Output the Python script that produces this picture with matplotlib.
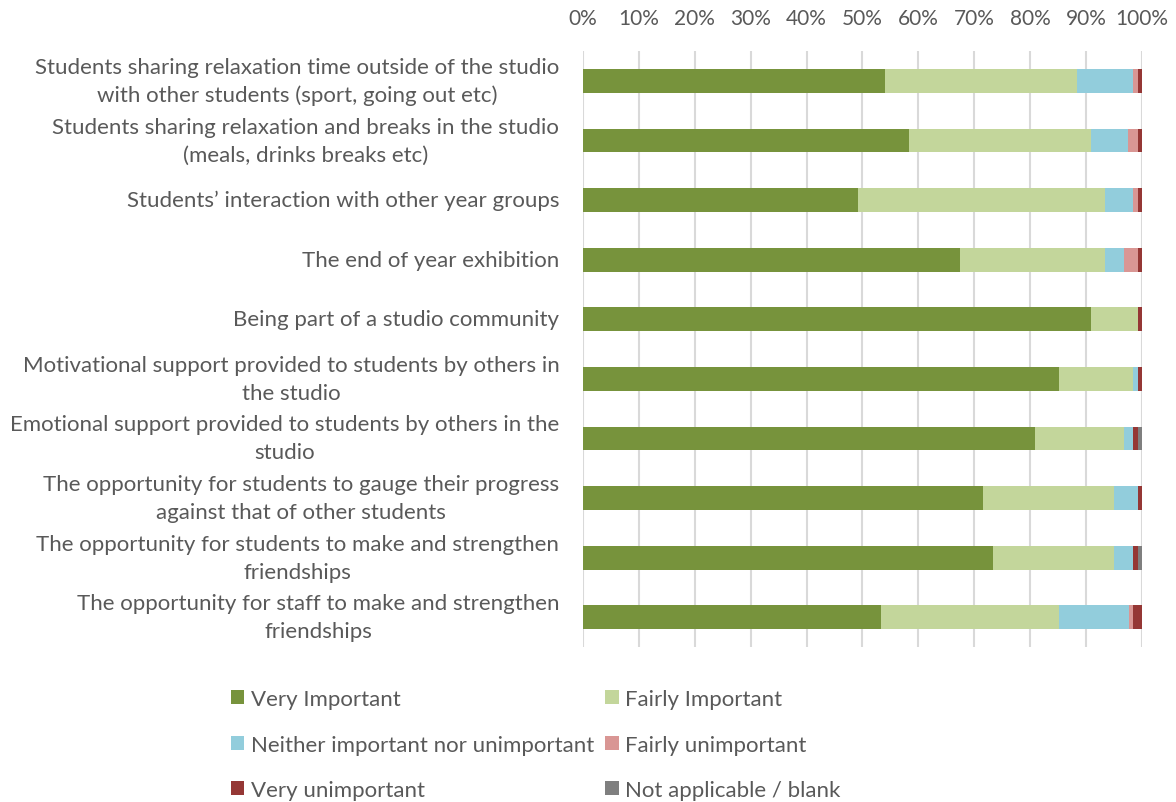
import numpy as np
import matplotlib.pyplot as plt
from matplotlib.patches import Patch

plt.rcParams['font.family'] = ['Lato', 'DejaVu Sans']

categories = [
    "Students sharing relaxation time outside of the studio\nwith other students (sport, going out etc)",
    "Students sharing relaxation and breaks in the studio\n(meals, drinks breaks etc)",
    "Students\u2019 interaction with other year groups",
    "The end of year exhibition",
    "Being part of a studio community",
    "Motivational support provided to students by others in\nthe studio",
    "Emotional support provided to students by others in the\nstudio",
    "The opportunity for students to gauge their progress\nagainst that of other students",
    "The opportunity for students to make and strengthen\nfriendships",
    "The opportunity for staff to make and strengthen\nfriendships",
]

series = ["Very Important", "Fairly Important", "Neither important nor unimportant",
          "Fairly unimportant", "Very unimportant", "Not applicable / blank"]

very_important = [54.0, 58.3, 49.2, 67.5, 90.9, 85.1, 80.8, 71.6, 73.4, 53.3]
fairly_important = [34.4, 32.6, 44.1, 25.8, 8.3, 13.3, 16.0, 23.4, 21.6, 31.8]
neither = [10.0, 6.6, 5.1, 3.5, 0.0, 0.8, 1.6, 4.2, 3.4, 12.5]
fairly_unimportant = [0.8, 1.7, 0.8, 2.4, 0.0, 0.0, 0.0, 0.0, 0.0, 0.8]
very_unimportant = [0.8, 0.8, 0.8, 0.8, 0.8, 0.8, 0.8, 0.8, 0.8, 1.6]
not_applicable = [0.0, 0.0, 0.0, 0.0, 0.0, 0.0, 0.8, 0.0, 0.8, 0.0]

colors = ["#77933C", "#C3D69B", "#92CDDC", "#D99694", "#953735", "#7F7F7F"]
text_color = "#595959"

data = np.array([very_important, fairly_important, neither,
                 fairly_unimportant, very_unimportant, not_applicable])
# scale each row to 100%
data = data / data.sum(axis=0) * 100

fig = plt.figure(figsize=(11.76, 8.03), dpi=100)
ax = fig.add_axes([0.4957, 0.193, 0.4754, 0.742])

y = np.arange(len(categories))
left = np.zeros(len(categories))
for vals, name, col in zip(data, series, colors):
    ax.barh(y, vals, left=left, height=0.4, color=col, label=name, zorder=3)
    left += vals

ax.set_xlim(0, 100)
ax.set_ylim(len(categories) - 0.5, -0.5)
ax.set_xticks(np.arange(0, 101, 10))
ax.set_xticklabels([f"{t}%" for t in range(0, 101, 10)])
ax.xaxis.tick_top()
ax.set_yticks(y)
ax.set_yticklabels(categories, multialignment='center', linespacing=1.5, va='center')

ax.tick_params(axis='x', length=0, pad=17, labelsize=15, labelcolor=text_color)
ax.tick_params(axis='y', length=0, pad=17, labelsize=16, labelcolor=text_color)
ax.grid(axis='x', color='#D9D9D9', linewidth=1.5, zorder=0)
for s in ax.spines.values():
    s.set_visible(False)

# legend rows read left to right, so order handles column by column
handles = [Patch(facecolor=c, edgecolor='none') for c in colors]
order = [0, 2, 4, 1, 3, 5]
fig.legend([handles[i] for i in order], [series[i] for i in order],
           loc='upper left', bbox_to_anchor=(0.187, 0.1545), ncol=2,
           frameon=False, fontsize=16, labelcolor=text_color,
           handlelength=0.6, handleheight=0.6, handletextpad=0.3,
           columnspacing=0.5, labelspacing=1.15, borderpad=0)

fig.savefig("out.png", dpi=100)
